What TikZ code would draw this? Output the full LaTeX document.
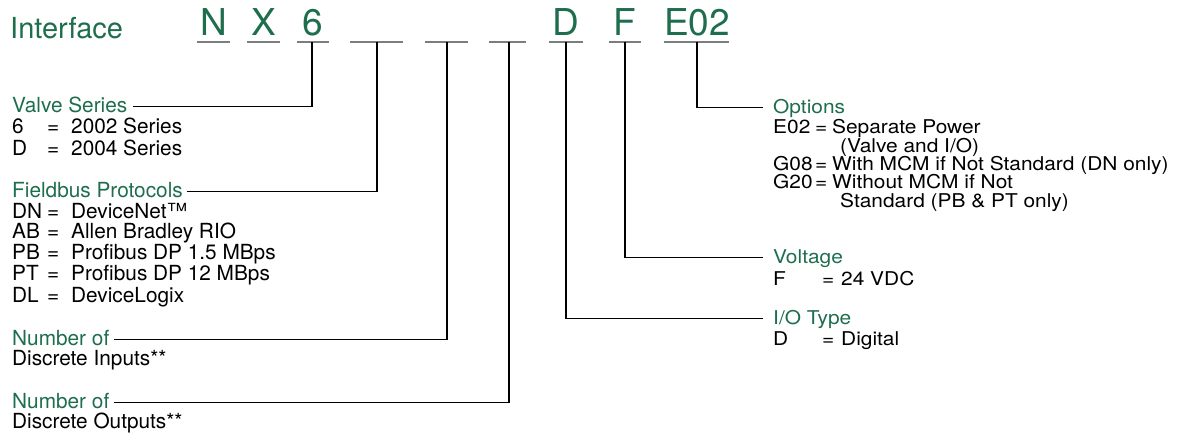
\documentclass[tikz,border=0pt]{standalone}
\usepackage{fontspec}
\setmainfont{TeX Gyre Heros}
\newfontfamily\rfont[FakeStretch=1.1]{TeX Gyre Heros}
\definecolor{grn}{RGB}{30,110,78}
\definecolor{ulgray}{RGB}{125,125,125}
\newcommand\lkv[2]{\makebox[35pt][l]{#1}\makebox[24pt][l]{=}#2}
\newcommand\okv[2]{\makebox[42pt][l]{#1}\makebox[17pt][l]{=}#2}
\newcommand\ocont[1]{\hspace*{67pt}#1}
\newcommand\vkv[2]{\makebox[49pt][l]{#1}\makebox[19pt][l]{=}#2}
\begin{document}
\begin{tikzpicture}[x=1pt,y=-1pt,
  codetxt/.style={text=grn, font=\fontsize{37}{37}\selectfont, inner sep=0pt, anchor=base},
  titletxt/.style={text=grn, font=\fontsize{29}{29}\selectfont, inner sep=0pt, anchor=base west},
  lab/.style={text=grn, font=\fontsize{20.8}{20.8}\selectfont, inner sep=0pt, anchor=base west},
  lt/.style={text=black, font=\fontsize{20.8}{20.8}\selectfont, inner sep=0pt, anchor=base west},
  rlab/.style={text=grn, font=\rfont\fontsize{19}{18.5}\selectfont, inner sep=0pt, anchor=base west},
  rt/.style={text=black, font=\rfont\fontsize{19}{18.5}\selectfont, inner sep=0pt, anchor=base west},
  uline/.style={draw=ulgray, line width=1.6pt},
  conn/.style={draw=black, line width=1.1pt}
]
\useasboundingbox (0,0) rectangle (1189,434);

% header
\node[titletxt] (iface) at (10,38) {Interface};
\node[codetxt] (cN) at (213.5,35) {N};
\node[codetxt] (cX) at (263.5,35) {X};
\node[codetxt] (c6) at (313,35) {6};
\node[codetxt] (cD) at (566,35) {D};
\node[codetxt] (cF) at (625,35) {F};
\node[codetxt] (cE) at (697,35) {E02};

% underlines
\draw[uline] (197,42) -- (230,42);
\draw[uline] (247,42) -- (280,42);
\draw[uline] (297,42) -- (329,42);
\draw[uline] (350,42) -- (403,42);
\draw[uline] (425,42) -- (468,42);
\draw[uline] (489,42) -- (526,42);
\draw[uline] (549,42) -- (583,42);
\draw[uline] (609,42) -- (641,42);
\draw[uline] (664,42) -- (729,42);
\coordinate (u6) at (312,42);
\coordinate (ub1) at (377,42);
\coordinate (ub2) at (447,42);
\coordinate (ub3) at (509,42);
\coordinate (uD) at (566,42);
\coordinate (uF) at (625,42);
\coordinate (uE) at (697,42);

% left column
\node[lab] (vs) at (12,112) {Valve Series};
\node[lt] (vs1) at (12,133) {\lkv{6}{2002 Series}};
\node[lt] (vs2) at (12,155) {\lkv{D}{2004 Series}};

\node[lab] (fp) at (12,197) {Fieldbus Protocols};
\node[lt] (fp1) at (12,218) {\lkv{DN}{DeviceNet™}};
\node[lt] (fp2) at (12,238) {\lkv{AB}{Allen Bradley RIO}};
\node[lt] (fp3) at (12,259) {\lkv{PB}{Profibus DP 1.5 MBps}};
\node[lt] (fp4) at (12,280) {\lkv{PT}{Profibus DP 12 MBps}};
\node[lt] (fp5) at (12,302) {\lkv{DL}{DeviceLogix}};

\node[lab] (ni) at (12,345) {Number of};
\node[lt] (ni1) at (12,365) {Discrete Inputs**};
\node[lab] (no) at (12,408) {Number of};
\node[lt] (no1) at (12,428) {Discrete Outputs**};

% right column
\node[rlab] (op) at (773,113) {Options};
\node[rt] (op1) at (773,133) {\okv{E02}{Separate Power}};
\node[rt] (op2) at (773,152) {\ocont{(Valve and I/O)}};
\node[rt] (op3) at (773,170) {\okv{G08}{With MCM if Not Standard (DN only)}};
\node[rt] (op4) at (773,188) {\okv{G20}{Without MCM if Not}};
\node[rt] (op5) at (773,207) {\ocont{Standard (PB \& PT only)}};

\node[rlab] (vo) at (773,263) {Voltage};
\node[rt] (vo1) at (773,285) {\vkv{F}{24 VDC}};

\node[rlab] (io) at (773,324) {I/O Type};
\node[rt] (io1) at (773,345) {\vkv{D}{Digital}};

% connectors
\draw[conn] ([xshift=6pt,yshift=5.5pt]vs.base east) -| (u6);
\draw[conn] ([xshift=4pt,yshift=5.5pt]fp.base east) -| (ub1);
\draw[conn] ([xshift=5pt,yshift=5.5pt]ni.base east) -| (ub2);
\draw[conn] ([xshift=5pt,yshift=5.5pt]no.base east) -| (ub3);
\draw[conn] ([xshift=-10pt,yshift=5.5pt]op.base west) -| (uE);
\draw[conn] ([xshift=-10pt,yshift=5.5pt]vo.base west) -| (uF);
\draw[conn] ([xshift=-10pt,yshift=5.5pt]io.base west) -| (uD);
\end{tikzpicture}
\end{document}
